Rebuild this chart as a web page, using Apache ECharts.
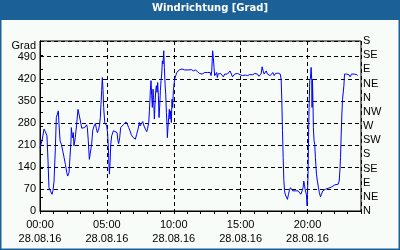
<!DOCTYPE html>
<html>
<head>
<meta charset="utf-8">
<script src="https://cdn.jsdelivr.net/npm/echarts@6/dist/echarts.min.js"></script>
<style>
html,body{margin:0;padding:0;background:#f8fcf8;}
#chart{width:400px;height:250px;}
</style>
</head>
<body>
<div id="chart"></div>
<script>
const titleText = 'Windrichtung [Grad]';
const dateLabel = '28.08.16';
const leftAxisName = 'Grad';
const directionLabels = ['N','NE','E','SE','S','SW','W','NW','N','NE','E','SE','S'];
// hours since 00:00 on 28.08.16
const hours = [
0.00,0.15,0.30,0.40,0.52,0.60,0.67,0.80,0.90,0.97,1.05,1.15,1.22,1.30,1.37,1.42,1.50,1.60,1.70,1.80,
1.90,2.00,2.07,2.17,2.24,2.32,2.34,2.42,2.49,2.54,2.64,2.74,2.84,2.94,3.02,3.12,3.34,3.49,3.54,3.61,
3.69,3.79,3.86,3.94,4.04,4.14,4.21,4.29,4.39,4.46,4.51,4.56,4.61,4.66,4.71,4.76,4.84,4.91,4.99,5.06,
5.11,5.16,5.19,5.24,5.29,5.36,5.49,5.63,5.76,5.83,5.88,5.96,6.03,6.13,6.23,6.33,6.43,6.53,6.63,6.73,
6.83,6.93,7.03,7.13,7.23,7.33,7.43,7.48,7.58,7.68,7.78,7.88,7.98,8.05,8.13,8.18,8.25,8.30,8.35,8.40,
8.45,8.50,8.55,8.60,8.65,8.70,8.75,8.80,8.85,8.90,8.95,9.00,9.05,9.10,9.15,9.20,9.25,9.30,9.35,9.40,
9.45,9.50,9.52,9.57,9.62,9.67,9.72,9.77,9.82,9.87,9.92,9.97,10.02,10.07,10.15,10.22,10.32,10.45,10.62,10.82,
11.07,11.32,11.47,11.62,11.77,11.92,12.02,12.12,12.22,12.32,12.42,12.52,12.62,12.72,12.79,12.84,12.91,12.96,13.01,13.06,
13.14,13.21,13.26,13.31,13.41,13.51,13.61,13.71,13.81,13.91,14.01,14.11,14.21,14.31,14.39,14.46,14.56,14.66,14.76,14.86,
14.96,15.06,15.16,15.26,15.36,15.51,15.66,15.76,15.91,16.06,16.16,16.26,16.36,16.46,16.53,16.61,16.68,16.76,16.83,16.91,
17.01,17.11,17.21,17.31,17.41,17.51,17.61,17.71,17.81,17.96,18.03,18.08,18.13,18.18,18.23,18.28,18.35,18.43,18.50,18.58,
18.65,18.73,18.80,18.90,19.00,19.10,19.20,19.30,19.40,19.50,19.60,19.67,19.72,19.77,19.82,19.87,19.92,19.97,20.00,20.02,
20.04,20.07,20.09,20.12,20.17,20.22,20.27,20.29,20.32,20.34,20.37,20.39,20.42,20.44,20.49,20.54,20.59,20.67,20.74,20.82,
20.89,20.97,21.04,21.14,21.24,21.34,21.44,21.54,21.66,21.79,21.92,22.04,22.17,22.29,22.37,22.42,22.47,22.52,22.57,22.62,
22.67,22.72,22.77,22.82,22.92,22.99,23.09,23.19,23.29,23.39,23.49,23.59,23.69,23.74
];
// wind direction in degrees (values above 360 continue past north, as on the right axis)
const direction = [
201,223,260,252,239,159,74,69,53,64,95,201,297,302,318,276,223,212,191,170,
148,122,111,122,170,223,265,233,249,207,233,276,323,318,286,263,265,274,265,223,
164,161,212,255,270,278,263,249,260,276,297,339,382,424,387,329,281,276,270,244,
201,143,117,154,212,239,255,255,249,223,214,233,265,267,274,278,283,276,265,255,
242,235,231,228,244,260,281,270,276,284,270,260,252,263,281,318,382,414,366,329,
387,355,292,339,382,398,377,408,366,297,334,382,414,435,477,467,509,456,403,371,
313,270,233,265,297,323,292,318,281,355,329,382,403,419,430,440,445,449,451,448,
448,449,445,448,443,437,440,435,430,440,445,440,435,440,430,445,509,488,456,430,
435,440,424,435,430,437,432,426,435,430,435,440,445,435,426,430,435,430,437,443,
433,435,430,435,432,430,433,430,433,437,432,435,428,424,435,458,445,435,440,445,
435,440,430,435,440,430,437,435,438,435,419,350,255,170,101,64,51,45,37,53,
66,74,69,64,66,64,66,64,58,53,64,74,95,85,69,64,51,16,53,85,
117,201,265,329,414,422,456,458,414,329,419,382,318,265,223,212,170,117,95,74,
58,45,53,64,69,69,71,72,74,76,82,83,80,85,95,127,170,244,308,355,
361,398,435,432,435,430,433,426,435,430,435,438,433,430
];
const leftTicks = [0,70,140,210,280,350,420,490];

const chart = echarts.init(document.getElementById('chart'), null, {renderer:'canvas'});
const labelFont = {fontFamily:'Liberation Sans', fontSize:11, color:'#000'};
const dashed = {color:'#000', width:1, type:[4,3]};

chart.setOption({
  animation:false,
  backgroundColor:'#f8fcf8',
  graphic:[
    {type:'rect', shape:{x:0,y:0,width:400,height:20}, style:{fill:'#1b6096'}, z:-1},
    {type:'rect', shape:{x:0.5,y:0.5,width:399,height:249}, style:{fill:null, stroke:'#1b6096', lineWidth:2}, z:-1}
  ],
  title:{
    text:titleText, left:152, top:3, padding:0,
    textStyle:{color:'#fff', fontFamily:'DejaVu Sans', fontWeight:'bold', fontSize:10}
  },
  grid:{left:40, top:41, width:321, height:170, show:true, borderColor:'#000', borderWidth:1, backgroundColor:'transparent'},
  xAxis:[
    {
      type:'value', min:0, max:24, interval:5, position:'bottom',
      axisLine:{show:true, lineStyle:{color:'#000'}},
      axisTick:{show:false},
      splitLine:{show:true, lineStyle:dashed},
      axisLabel:{
        ...labelFont, margin:7, lineHeight:14, showMaxLabel:false,
        formatter:v => (v>=24 ? '' : String(v).padStart(2,'0') + ':00\n' + dateLabel)
      }
    },
    {
      type:'value', min:0, max:24, interval:1, position:'bottom',
      axisLine:{show:false},
      axisTick:{show:true, length:3, lineStyle:{color:'#000'}},
      splitLine:{show:false},
      axisLabel:{show:false}
    }
  ],
  yAxis:[
    {
      type:'value', min:0, max:540, interval:70, position:'left',
      name:leftAxisName, nameLocation:'end', nameGap:-6,
      nameTextStyle:{...labelFont, align:'right', verticalAlign:'middle', padding:[0,4,0,0]},
      axisLine:{show:true, lineStyle:{color:'#000'}},
      axisTick:{show:false},
      splitLine:{show:true, lineStyle:dashed},
      axisLabel:{...labelFont, margin:4, formatter:v => (leftTicks.includes(v) ? String(v) : '')}
    },
    {
      type:'value', min:0, max:540, interval:45, position:'right',
      axisLine:{show:true, lineStyle:{color:'#000'}},
      axisTick:{show:true, inside:false, length:3, lineStyle:{color:'#000'}},
      splitLine:{show:false},
      axisLabel:{...labelFont, margin:2, formatter:v => directionLabels[Math.round(v/45)]}
    }
  ],
  series:[{
    type:'line', xAxisIndex:0, yAxisIndex:0,
    data:hours.map((h,i)=>[h,direction[i]]),
    showSymbol:false, symbol:'none',
    lineStyle:{color:'#0000ff', width:1},
    z:5
  }]
});
</script>
</body>
</html>
